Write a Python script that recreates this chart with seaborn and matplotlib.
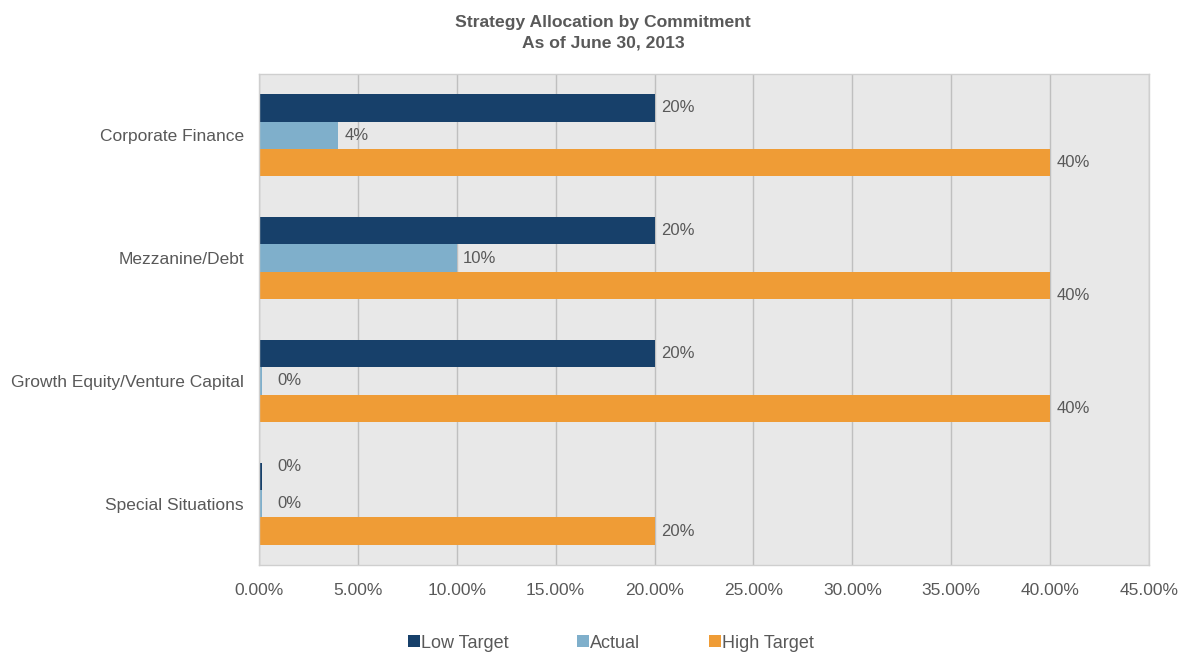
import matplotlib
matplotlib.use("Agg")
import matplotlib.pyplot as plt
import seaborn as sns
import pandas as pd
from matplotlib.lines import Line2D
from matplotlib.ticker import PercentFormatter

categories = ["Corporate Finance", "Mezzanine/Debt", "Growth Equity/Venture Capital", "Special Situations"]
series_names = ["Low Target", "Actual", "High Target"]
low_target = [0.20, 0.20, 0.20, 0.0015]
actual = [0.04, 0.10, 0.0015, 0.0015]
high_target = [0.40, 0.40, 0.40, 0.20]
label_text = {
    "Low Target": ["20%", "20%", "20%", "0%"],
    "Actual": ["4%", "10%", "0%", "0%"],
    "High Target": ["40%", "40%", "40%", "20%"],
}
colors = ["#17406A", "#7FAFCB", "#EF9C36"]

rows = []
for name, vals in zip(series_names, [low_target, actual, high_target]):
    for c, v in zip(categories, vals):
        rows.append({"Category": c, "Series": name, "Value": v})
df = pd.DataFrame(rows)

sns.set_theme(style="white")
plt.rcParams["font.family"] = ["Liberation Sans", "DejaVu Sans"]
text_color = "#595959"

fig = plt.figure(figsize=(11.81, 6.55), dpi=100)
ax = fig.add_axes([259/1181, 1-565/655, (1149-259)/1181, (565-74)/655])
ax.set_facecolor("#E8E8E8")

sns.barplot(data=df, y="Category", x="Value", hue="Series", order=categories,
            hue_order=series_names, palette=colors, orient="h", width=0.67,
            saturation=1, ax=ax, legend=False, linewidth=0)

ax.set_ylim(3.5, -0.5)
ax.set_xlim(0, 0.45)
ax.set_xticks([i * 0.05 for i in range(10)])
ax.xaxis.set_major_formatter(PercentFormatter(xmax=1, decimals=2))
ax.grid(axis="x", color="#BFBFBF", linewidth=1)
ax.set_axisbelow(True)
ax.set_xlabel("")
ax.set_ylabel("")
ax.tick_params(axis="both", colors=text_color, labelsize=12.5, length=0)
ax.tick_params(axis="x", pad=13)
ax.tick_params(axis="y", pad=10.8)
for s in ax.spines.values():
    s.set_color("#CFCFCF")
    s.set_linewidth(1)

# value labels
yshift = {("High Target", 1): -7, ("Low Target", 3): 7}
for cont, name in zip(ax.containers, series_names):
    for i, patch in enumerate(cont.patches):
        w = patch.get_width()
        yc = patch.get_y() + patch.get_height() / 2
        dx = 11 if w < 0.01 else 4.5
        ax.annotate(label_text[name][i], (w, yc), xytext=(dx, yshift.get((name, i), 0)),
                    textcoords="offset points", va="center", ha="left",
                    fontsize=12, color=text_color)

fig.text(603/1181, 1-22/655, "Strategy Allocation by Commitment", ha="center", va="center",
         fontsize=12.6, fontweight="bold", color=text_color)
fig.text(603/1181, 1-43/655, "As of June 30, 2013", ha="center", va="center",
         fontsize=12.6, fontweight="bold", color=text_color)

handles = [Line2D([0], [0], marker="s", linestyle="", markersize=8, markerfacecolor=c,
                  markeredgewidth=0) for c in colors]
fig.legend(handles, series_names, loc="center", bbox_to_anchor=(611/1181, 1-643/655),
           ncol=3, frameon=False, fontsize=13, handlelength=0.6, handletextpad=0.08,
           columnspacing=3.85, labelcolor=text_color, borderaxespad=0, borderpad=0)

fig.savefig("out.png", dpi=100)
